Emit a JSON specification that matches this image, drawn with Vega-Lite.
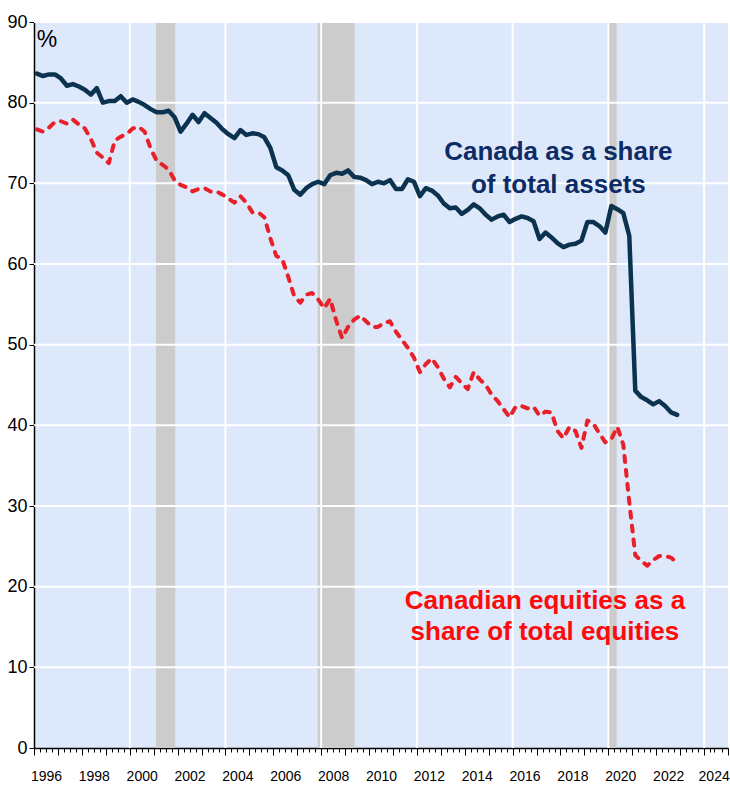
{
  "$schema": "https://vega.github.io/schema/vega-lite/v6.json",
  "width": 694,
  "height": 726,
  "autosize": "none",
  "padding": {"left": 34, "top": 22, "right": 2, "bottom": 41},
  "background": "white",
  "config": {"view": {"fill": "#dde9fb", "stroke": null}, "font": "Liberation Sans"},
  "resolve": {"axis": {"x": "independent", "y": "independent"}},
  "datasets": {
    "series": [
      {"t": 1996.125, "assets": 83.6, "equities": 76.7},
      {"t": 1996.375, "assets": 83.3, "equities": 76.4},
      {"t": 1996.625, "assets": 83.5, "equities": 76.9},
      {"t": 1996.875, "assets": 83.5, "equities": 77.6},
      {"t": 1997.125, "assets": 83.0, "equities": 77.7},
      {"t": 1997.375, "assets": 82.1, "equities": 77.4},
      {"t": 1997.625, "assets": 82.3, "equities": 77.9},
      {"t": 1997.875, "assets": 82.0, "equities": 77.3},
      {"t": 1998.125, "assets": 81.6, "equities": 76.8},
      {"t": 1998.375, "assets": 81.0, "equities": 75.5},
      {"t": 1998.625, "assets": 81.8, "equities": 73.8},
      {"t": 1998.875, "assets": 80.0, "equities": 73.2},
      {"t": 1999.125, "assets": 80.2, "equities": 72.5},
      {"t": 1999.375, "assets": 80.2, "equities": 75.3},
      {"t": 1999.625, "assets": 80.8, "equities": 75.8},
      {"t": 1999.875, "assets": 80.0, "equities": 76.1},
      {"t": 2000.125, "assets": 80.4, "equities": 76.8},
      {"t": 2000.375, "assets": 80.1, "equities": 77.0},
      {"t": 2000.625, "assets": 79.7, "equities": 76.4},
      {"t": 2000.875, "assets": 79.2, "equities": 74.3},
      {"t": 2001.125, "assets": 78.8, "equities": 72.8},
      {"t": 2001.375, "assets": 78.8, "equities": 72.3},
      {"t": 2001.625, "assets": 79.0, "equities": 71.7},
      {"t": 2001.875, "assets": 78.2, "equities": 70.4},
      {"t": 2002.125, "assets": 76.4, "equities": 69.8},
      {"t": 2002.375, "assets": 77.4, "equities": 69.5},
      {"t": 2002.625, "assets": 78.5, "equities": 69.0},
      {"t": 2002.875, "assets": 77.6, "equities": 69.3},
      {"t": 2003.125, "assets": 78.7, "equities": 69.4},
      {"t": 2003.375, "assets": 78.1, "equities": 69.0},
      {"t": 2003.625, "assets": 77.5, "equities": 69.0},
      {"t": 2003.875, "assets": 76.7, "equities": 68.6},
      {"t": 2004.125, "assets": 76.1, "equities": 68.1},
      {"t": 2004.375, "assets": 75.6, "equities": 67.6},
      {"t": 2004.625, "assets": 76.6, "equities": 68.4},
      {"t": 2004.875, "assets": 76.0, "equities": 67.6},
      {"t": 2005.125, "assets": 76.2, "equities": 66.4},
      {"t": 2005.375, "assets": 76.1, "equities": 66.4},
      {"t": 2005.625, "assets": 75.7, "equities": 65.8},
      {"t": 2005.875, "assets": 74.4, "equities": 63.2},
      {"t": 2006.125, "assets": 72.0, "equities": 61.0},
      {"t": 2006.375, "assets": 71.6, "equities": 60.6},
      {"t": 2006.625, "assets": 71.0, "equities": 58.4},
      {"t": 2006.875, "assets": 69.2, "equities": 56.0},
      {"t": 2007.125, "assets": 68.6, "equities": 55.2},
      {"t": 2007.375, "assets": 69.4, "equities": 56.2},
      {"t": 2007.625, "assets": 69.9, "equities": 56.4},
      {"t": 2007.875, "assets": 70.2, "equities": 55.6},
      {"t": 2008.125, "assets": 69.9, "equities": 54.5},
      {"t": 2008.375, "assets": 71.0, "equities": 55.7},
      {"t": 2008.625, "assets": 71.3, "equities": 53.0},
      {"t": 2008.875, "assets": 71.2, "equities": 50.8},
      {"t": 2009.125, "assets": 71.6, "equities": 52.2},
      {"t": 2009.375, "assets": 70.8, "equities": 53.1},
      {"t": 2009.625, "assets": 70.7, "equities": 53.6},
      {"t": 2009.875, "assets": 70.4, "equities": 52.9},
      {"t": 2010.125, "assets": 69.9, "equities": 52.2},
      {"t": 2010.375, "assets": 70.2, "equities": 52.2},
      {"t": 2010.625, "assets": 70.0, "equities": 52.7},
      {"t": 2010.875, "assets": 70.4, "equities": 52.9},
      {"t": 2011.125, "assets": 69.3, "equities": 51.6},
      {"t": 2011.375, "assets": 69.3, "equities": 50.6},
      {"t": 2011.625, "assets": 70.5, "equities": 49.6},
      {"t": 2011.875, "assets": 70.2, "equities": 48.4},
      {"t": 2012.125, "assets": 68.4, "equities": 46.6},
      {"t": 2012.375, "assets": 69.4, "equities": 47.6},
      {"t": 2012.625, "assets": 69.1, "equities": 48.3},
      {"t": 2012.875, "assets": 68.5, "equities": 47.2},
      {"t": 2013.125, "assets": 67.5, "equities": 45.8},
      {"t": 2013.375, "assets": 66.9, "equities": 44.7},
      {"t": 2013.625, "assets": 67.0, "equities": 46.0},
      {"t": 2013.875, "assets": 66.2, "equities": 45.2},
      {"t": 2014.125, "assets": 66.7, "equities": 44.5},
      {"t": 2014.375, "assets": 67.4, "equities": 46.6},
      {"t": 2014.625, "assets": 66.9, "equities": 45.7},
      {"t": 2014.875, "assets": 66.1, "equities": 45.0},
      {"t": 2015.125, "assets": 65.5, "equities": 43.8},
      {"t": 2015.375, "assets": 65.9, "equities": 43.0},
      {"t": 2015.625, "assets": 66.1, "equities": 42.0},
      {"t": 2015.875, "assets": 65.2, "equities": 41.0},
      {"t": 2016.125, "assets": 65.6, "equities": 42.3},
      {"t": 2016.375, "assets": 65.9, "equities": 42.4},
      {"t": 2016.625, "assets": 65.7, "equities": 42.1},
      {"t": 2016.875, "assets": 65.3, "equities": 42.3},
      {"t": 2017.125, "assets": 63.1, "equities": 41.2},
      {"t": 2017.375, "assets": 63.9, "equities": 41.7},
      {"t": 2017.625, "assets": 63.3, "equities": 41.6},
      {"t": 2017.875, "assets": 62.6, "equities": 39.3},
      {"t": 2018.125, "assets": 62.1, "equities": 38.4},
      {"t": 2018.375, "assets": 62.4, "equities": 39.8},
      {"t": 2018.625, "assets": 62.5, "equities": 39.3},
      {"t": 2018.875, "assets": 62.9, "equities": 37.2},
      {"t": 2019.125, "assets": 65.2, "equities": 40.6},
      {"t": 2019.375, "assets": 65.2, "equities": 40.2},
      {"t": 2019.625, "assets": 64.7, "equities": 39.0},
      {"t": 2019.875, "assets": 63.9, "equities": 37.9},
      {"t": 2020.125, "assets": 67.2, "equities": 38.3},
      {"t": 2020.375, "assets": 66.8, "equities": 39.8},
      {"t": 2020.625, "assets": 66.3, "equities": 37.6},
      {"t": 2020.875, "assets": 63.5, "equities": 30.5},
      {"t": 2021.125, "assets": 44.3, "equities": 23.9},
      {"t": 2021.375, "assets": 43.5, "equities": 23.2},
      {"t": 2021.625, "assets": 43.1, "equities": 22.6},
      {"t": 2021.875, "assets": 42.6, "equities": 23.3},
      {"t": 2022.125, "assets": 43.0, "equities": 23.8},
      {"t": 2022.375, "assets": 42.4, "equities": 23.8},
      {"t": 2022.625, "assets": 41.6, "equities": 23.6},
      {"t": 2022.875, "assets": 41.3, "equities": 22.9}
    ],
    "recessions": [
      {"start": 2001.1, "end": 2001.9},
      {"start": 2007.85, "end": 2009.4},
      {"start": 2020.0, "end": 2020.35}
    ],
    "hgrid": [{"v": 10}, {"v": 20}, {"v": 30}, {"v": 40}, {"v": 50}, {"v": 60}, {"v": 70}, {"v": 80}, {"v": 90}],
    "vgrid": [{"v": 2000}, {"v": 2004}, {"v": 2008}, {"v": 2012}, {"v": 2016}, {"v": 2020}, {"v": 2024}],
    "one": [{"k": 1}]
  },
  "layer": [
    {
      "data": {"name": "recessions"},
      "mark": {"type": "rect", "color": "#cccccc"},
      "encoding": {
        "x": {"field": "start", "type": "quantitative", "axis": null,
          "scale": {"domain": [1996, 2025], "nice": false, "zero": false}},
        "x2": {"field": "end"}
      }
    },
    {
      "data": {"name": "hgrid"},
      "mark": {"type": "rule", "color": "white", "strokeWidth": 2},
      "encoding": {
        "y": {"field": "v", "type": "quantitative", "axis": null,
          "scale": {"domain": [0, 90], "nice": false}}
      }
    },
    {
      "data": {"name": "vgrid"},
      "mark": {"type": "rule", "color": "white", "strokeWidth": 2},
      "encoding": {
        "x": {"field": "v", "type": "quantitative", "axis": null}
      }
    },
    {
      "data": {"name": "series"},
      "mark": {"type": "line", "color": "#e8202a", "strokeWidth": 4, "strokeDash": [6, 8], "strokeCap": "round", "strokeJoin": "round"},
      "encoding": {
        "x": {"field": "t", "type": "quantitative", "axis": null},
        "y": {"field": "equities", "type": "quantitative", "axis": null}
      }
    },
    {
      "data": {"name": "series"},
      "mark": {"type": "line", "color": "#0b3350", "strokeWidth": 4.5, "strokeCap": "round", "strokeJoin": "round"},
      "encoding": {
        "x": {
          "field": "t", "type": "quantitative", "title": null,
          "axis": {
            "title": null,
            "values": [1996,1996.25,1996.5,1996.75,1997,1997.25,1997.5,1997.75,1998,1998.25,1998.5,1998.75,1999,1999.25,1999.5,1999.75,2000,2000.25,2000.5,2000.75,2001,2001.25,2001.5,2001.75,2002,2002.25,2002.5,2002.75,2003,2003.25,2003.5,2003.75,2004,2004.25,2004.5,2004.75,2005,2005.25,2005.5,2005.75,2006,2006.25,2006.5,2006.75,2007,2007.25,2007.5,2007.75,2008,2008.25,2008.5,2008.75,2009,2009.25,2009.5,2009.75,2010,2010.25,2010.5,2010.75,2011,2011.25,2011.5,2011.75,2012,2012.25,2012.5,2012.75,2013,2013.25,2013.5,2013.75,2014,2014.25,2014.5,2014.75,2015,2015.25,2015.5,2015.75,2016,2016.25,2016.5,2016.75,2017,2017.25,2017.5,2017.75,2018,2018.25,2018.5,2018.75,2019,2019.25,2019.5,2019.75,2020,2020.25,2020.5,2020.75,2021,2021.25,2021.5,2021.75,2022,2022.25,2022.5,2022.75,2023,2023.25,2023.5,2023.75,2024,2024.25,2024.4,2024.75,2025],
            "labelExpr": "(floor(datum.value) % 2 == 0 && datum.value % 1 >= 0.375 && datum.value % 1 <= 0.625) ? format(floor(datum.value), 'd') : ''",
            "labelFont": "Liberation Sans",
            "labelFontSize": 14,
            "labelColor": "black",
            "labelOverlap": false,
            "labelFlush": false,
            "labelBound": false,
            "labelPadding": 17,
            "tickSize": {"condition": {"test": "datum.value % 1 == 0", "value": 7}, "value": 4},
            "tickColor": "black",
            "tickWidth": 1,
            "domainColor": "black",
            "domainWidth": 1.5,
            "grid": false
          }
        },
        "y": {
          "field": "assets", "type": "quantitative", "title": null,
          "axis": {
            "title": null,
            "values": [0, 10, 20, 30, 40, 50, 60, 70, 80, 90],
            "labelFont": "Liberation Sans",
            "labelFontSize": 18,
            "labelColor": "black",
            "labelPadding": 2,
            "tickSize": 5,
            "tickColor": "black",
            "domainColor": "black",
            "domainWidth": 1.5,
            "grid": false
          }
        }
      }
    },
    {
      "data": {"name": "one"},
      "mark": {"type": "text", "font": "Liberation Sans", "fontSize": 23, "align": "left", "baseline": "alphabetic", "color": "black", "text": "%"},
      "encoding": {
        "x": {"datum": 1996.11, "type": "quantitative", "axis": null},
        "y": {"datum": 86.9, "type": "quantitative", "axis": null}
      }
    },
    {
      "data": {"name": "one"},
      "mark": {"type": "text", "font": "Liberation Sans", "fontSize": 26, "fontWeight": "bold", "align": "center", "baseline": "alphabetic", "lineHeight": 32.5, "color": "#0d2b66", "text": ["Canada as a share", "of total assets"]},
      "encoding": {
        "x": {"datum": 2017.91, "type": "quantitative", "axis": null},
        "y": {"datum": 72.89, "type": "quantitative", "axis": null}
      }
    },
    {
      "data": {"name": "one"},
      "mark": {"type": "text", "font": "Liberation Sans", "fontSize": 26, "fontWeight": "bold", "align": "center", "baseline": "alphabetic", "lineHeight": 31, "color": "#ff0a0a", "text": ["Canadian equities as a", "share of total equities"]},
      "encoding": {
        "x": {"datum": 2017.35, "type": "quantitative", "axis": null},
        "y": {"datum": 17.29, "type": "quantitative", "axis": null}
      }
    }
  ]
}
